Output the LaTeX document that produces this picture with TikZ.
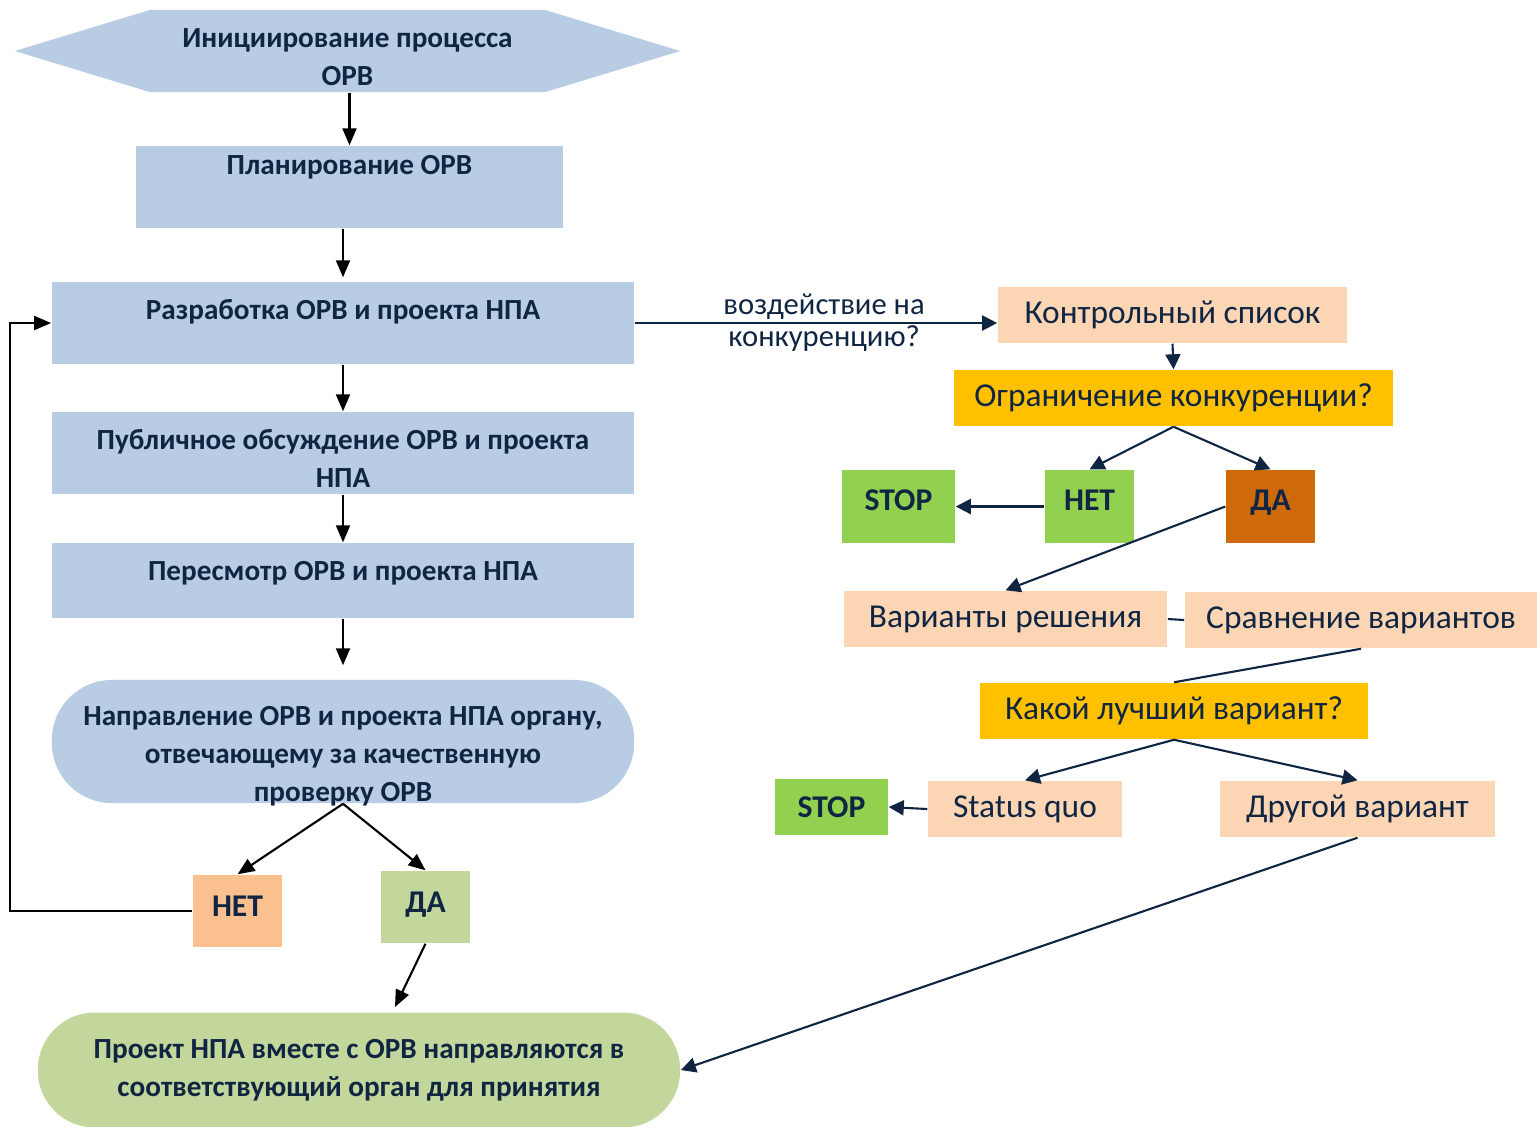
\documentclass[tikz,border=0pt]{standalone}
\usepackage{fontspec}
\setmainfont{Carlito}
\usepackage{tikz}
\usetikzlibrary{arrows.meta}

\definecolor{navy}{RGB}{16,37,66}
\definecolor{steel}{RGB}{184,204,228}
\definecolor{peachL}{RGB}{250,192,144}
\definecolor{sage}{RGB}{195,214,155}
\definecolor{peach}{RGB}{252,213,180}
\definecolor{gold}{RGB}{255,192,0}
\definecolor{lime}{RGB}{146,208,80}
\definecolor{rust}{RGB}{207,106,10}

\begin{document}
\begin{tikzpicture}[x=0.01cm, y=-0.01cm,
    lefttext/.style={text=navy, align=center, inner sep=0pt,
      font=\fontsize{8.3}{10.7}\selectfont\bfseries},
    leftbox/.style={lefttext, fill=steel},
    answer/.style={text=navy, inner sep=0pt, minimum width=0.89cm,
      font=\fontsize{9}{11}\selectfont\bfseries},
    rightbox/.style={text=navy, inner sep=0pt, minimum height=0.56cm,
      font=\fontsize{9.5}{11}\selectfont},
    blackarrow/.style={draw=black, line width=0.6pt,
      -{Triangle[length=0.17cm,width=0.14cm]}},
    navyarrow/.style={draw=navy, line width=0.6pt,
      -{Triangle[length=0.15cm,width=0.15cm]}},
    navyline/.style={draw=navy, line width=0.6pt}]

    \useasboundingbox (0,0) rectangle (1537,1126);

    % Left column: the main procedure
    \node[lefttext, minimum width=6.65cm, text height=0.75cm, text depth=0.07cm,
      path picture={\fill[steel] (path picture bounding box.west)
        -- ([xshift=1.35cm]path picture bounding box.north west)
        -- ([xshift=-1.35cm]path picture bounding box.north east)
        -- (path picture bounding box.east)
        -- ([xshift=-1.35cm]path picture bounding box.south east)
        -- ([xshift=1.35cm]path picture bounding box.south west) -- cycle;}]
      (init) at (347.5,51) {Инициирование процесса\\ОРВ};
    \node[leftbox, minimum width=4.27cm, text height=0.28cm, text depth=0.54cm]
      (plan) at (349.5,187) {Планирование ОРВ};
    \node[leftbox, minimum width=5.82cm, text height=0.37cm, text depth=0.45cm]
      (dev) at (343,323) {Разработка ОРВ и проекта НПА};
    \node[leftbox, minimum width=5.82cm, text height=0.75cm, text depth=0.07cm]
      (disc) at (343,453) {Публичное обсуждение ОРВ и проекта\\НПА};
    \node[leftbox, minimum width=5.82cm, text height=0.37cm, text depth=0.38cm]
      (rev) at (343,580.5) {Пересмотр ОРВ и проекта НПА};
    \node[leftbox, minimum width=5.82cm, text height=1.21cm, text depth=0.02cm, rounded corners=0.6cm]
      (send) at (343,741.5) {Направление ОРВ и проекта НПА органу,\\отвечающему за качественную\\проверку ОРВ};
    \node[answer, fill=peachL, text height=0.41cm, text depth=0.31cm] (noL) at (237.5,911) {НЕТ};
    \node[answer, fill=sage, text height=0.41cm, text depth=0.31cm] (daL) at (425.5,907) {ДА};
    \node[lefttext, fill=sage, minimum width=6.42cm, minimum height=1.15cm, rounded corners=0.57cm]
      (final) at (359,1070) {Проект НПА вместе с ОРВ направляются в\\соответствующий орган для принятия};

    % Right column: the competition check
    \node[rightbox, fill=peach, minimum width=3.49cm] (check) at (1172.5,315) {Контрольный список};
    \node[rightbox, fill=gold, minimum width=4.39cm] (limit) at (1173.5,398) {Ограничение конкуренции?};
    \node[answer, fill=lime, minimum width=1.13cm, text height=0.40cm, text depth=0.33cm] (stopA) at (898.5,506.5) {STOP};
    \node[answer, fill=lime, text height=0.40cm, text depth=0.33cm] (noR) at (1089.5,506.5) {НЕТ};
    \node[answer, fill=rust, text height=0.40cm, text depth=0.33cm] (daR) at (1270.5,506.5) {ДА};
    \node[rightbox, fill=peach, minimum width=3.23cm] (variants) at (1005.5,619) {Варианты решения};
    \node[rightbox, fill=peach, minimum width=3.52cm] (compare) at (1361,620) {Сравнение вариантов};
    \node[rightbox, fill=gold, minimum width=3.88cm] (best) at (1174,711) {Какой лучший вариант?};
    \node[answer, fill=lime, minimum width=1.13cm, minimum height=0.56cm] (stopB) at (831.5,807) {STOP};
    \node[rightbox, fill=peach, minimum width=1.94cm] (sq) at (1025,809) {Status quo};
    \node[rightbox, fill=peach, minimum width=2.75cm] (other) at (1357.5,809) {Другой вариант};

    \coordinate (loopx) at (10,0);
    \coordinate (finaltop) at (395,1007);

    % Connect the left column
    \foreach \a/\b/\s in {init/plan/0mm, plan/dev/0.4mm, dev/disc/0mm, disc/rev/0mm, rev/send/1.4mm}
      \draw[blackarrow, shorten >=\s] (\b.north |- \a.south) -- (\b.north);
    \foreach \b in {noL, daL}
      \draw[blackarrow] (send.south) -- (\b.north);
    \draw[blackarrow] (noL.west) -- (noL.west -| loopx) |- (dev.west);
    \draw[blackarrow] (daL.south) -- (finaltop);

    % Connect the right column
    \draw[navyarrow] (dev.east) -- (dev.east -| check.west)
      node[midway, text=navy, align=center, font=\fontsize{8.7}{9.1}\selectfont, xshift=0.08cm]
      (ask) {воздействие на\\конкуренцию?};
    \draw[navyarrow] (check.south) -- (limit.north);
    \foreach \b in {noR, daR}
      \draw[navyarrow] (limit.south) -- (\b.north);
    \draw[navyarrow] (noR.west) -- (stopA.east);
    \draw[navyarrow] (daR.west) -- (variants.north);
    \draw[navyline] (variants.east) -- (compare.west);
    \draw[navyline] (compare.south) -- (best.north);
    \foreach \b in {sq, other}
      \draw[navyarrow] (best.south) -- (\b.north);
    \draw[navyarrow] (sq.west) -- (stopB.east);
    \draw[navyarrow] (other.south) -- (final.east);
\end{tikzpicture}
\end{document}
